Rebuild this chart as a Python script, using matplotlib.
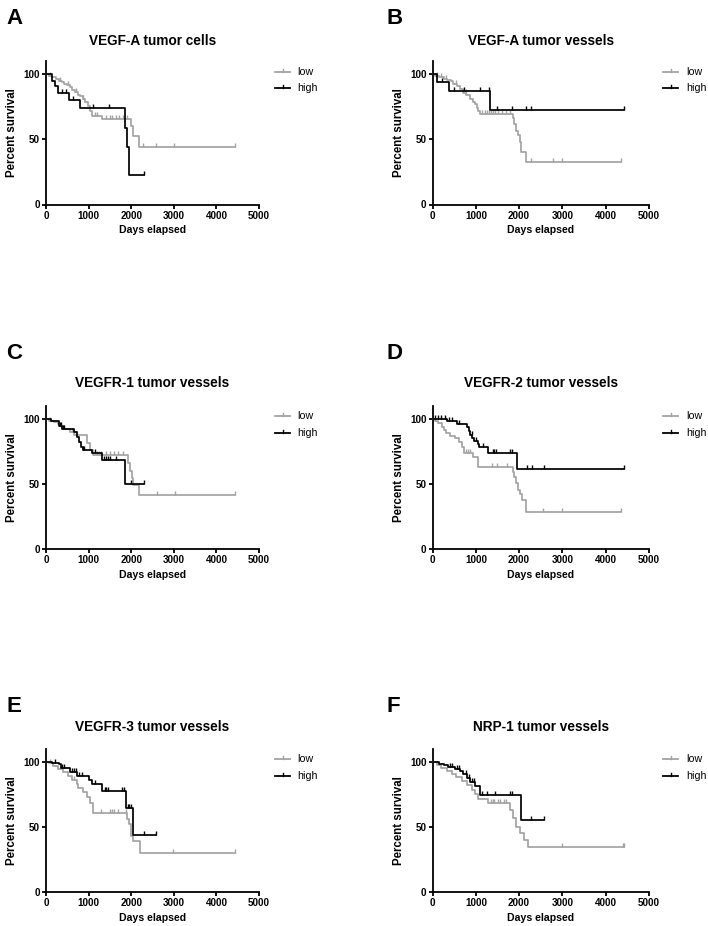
import numpy as np
import matplotlib
matplotlib.use('Agg')
import matplotlib.pyplot as plt
from matplotlib.lines import Line2D

plt.rcParams['font.family'] = ['Liberation Sans', 'DejaVu Sans']

# ---------------- data (days, percent survival) ----------------
titles = ["VEGF-A tumor cells", "VEGF-A tumor vessels", "VEGFR-1 tumor vessels",
          "VEGFR-2 tumor vessels", "VEGFR-3 tumor vessels", "NRP-1 tumor vessels"]
letters = ["A", "B", "C", "D", "E", "F"]
groups = ["low", "high"]
x_ticks = [0, 1000, 2000, 3000, 4000, 5000]
y_ticks = [0, 50, 100]

# Panel A
a_low_t = [60, 150, 230, 300, 370, 430, 500, 560, 620, 680, 740, 800, 860, 920, 980, 1040, 1090, 1320, 1990, 2050, 2180]
a_low_s = [98.8, 97.6, 96.4, 95.2, 94.0, 92.8, 91.6, 90.4, 88.0, 86.8, 84.4, 83.2, 80.8, 78.4, 75.8, 72.0, 68.2, 65.8, 60.0, 53.0, 44.4]
a_low_end = 4430
a_low_cens = [100, 340, 520, 700, 880, 1150, 1200, 1420, 1500, 1560, 1640, 1720, 1800, 1900, 2270, 2580, 3000, 4430]
a_high_t = [140, 200, 270, 540, 800, 1850, 1895, 1950]
a_high_s = [95, 91, 86, 80.5, 74.5, 58.5, 44.5, 22.3]
a_high_end = 2300
a_high_cens = [380, 460, 640, 1110, 1480, 2300]

# Panel B
b_low_t = [60, 150, 250, 330, 420, 480, 560, 640, 710, 780, 860, 930, 980, 1030, 1060, 1100, 1850, 1880, 1930, 1970, 2010, 2050, 2150]
b_low_s = [99, 98, 96.5, 95.5, 94.5, 92.5, 91, 89, 86, 84, 81, 79, 77, 74.5, 72, 69.5, 66.8, 61.7, 56.6, 53.3, 47.7, 40.6, 32.9]
b_low_end = 4360
b_low_cens = [100, 200, 300, 540, 760, 1150, 1200, 1250, 1300, 1350, 1400, 1450, 1500, 1600, 1700, 1780, 2270, 2790, 2990, 4360]
b_high_t = [110, 380, 1330]
b_high_s = [94, 87, 72.5]
b_high_end = 4430
b_high_cens = [210, 500, 725, 1100, 1300, 1480, 1830, 2150, 2270, 4430]

# Panel C
c_low_t = [60, 180, 280, 350, 420, 570, 650, 960, 1030, 1110, 1930, 1970, 2010, 2050, 2190]
c_low_s = [98.8, 97.5, 96, 94.5, 92.5, 90, 87.5, 81.3, 76.5, 72.0, 66, 60, 55, 49, 41.5]
c_low_end = 4430
c_low_cens = [100, 600, 700, 1200, 1250, 1300, 1400, 1500, 1600, 1700, 1800, 2600, 3020, 4430]
c_high_t = [125, 300, 380, 650, 720, 770, 830, 870, 1090, 1320, 1852]
c_high_s = [98.2, 95, 92.3, 89.7, 86, 82, 78.2, 76, 73.5, 68.2, 50]
c_high_end = 2297
c_high_cens = [330, 360, 400, 430, 880, 900, 1150, 1350, 1400, 1450, 1500, 1650, 2000, 2297]

# Panel D
d_low_t = [60, 130, 210, 260, 310, 400, 520, 600, 670, 725, 940, 1057, 1852, 1890, 1929, 1983, 2029, 2060, 2168]
d_low_s = [98.5, 96.7, 94.1, 91.5, 89, 87, 85.1, 82.6, 78.7, 73.6, 71, 63.3, 59.5, 55.6, 50.5, 45.4, 42.3, 37.7, 28.7]
d_low_end = 4360
d_low_cens = [780, 820, 860, 1366, 1481, 1713, 2560, 2990, 4360]
d_high_t = [330, 560, 790, 830, 870, 920, 960, 1040, 1080, 1290, 1944]
d_high_s = [98.5, 96.5, 93.5, 90.5, 88, 85.5, 83, 80.5, 78.7, 73.6, 61.8]
d_high_end = 4430
d_high_cens = [50, 120, 200, 280, 380, 450, 620, 900, 1000, 1170, 1390, 1420, 1470, 1800, 1840, 2176, 2290, 2577, 4430]

# Panel E
e_low_t = [60, 170, 290, 400, 520, 600, 730, 760, 860, 960, 1030, 1110, 1910, 1950, 2005, 2050, 2200]
e_low_s = [98.8, 97, 94.5, 92, 89, 86, 83, 79.5, 76.5, 73, 68, 60.8, 55.7, 51.9, 43, 39, 30]
e_low_end = 4430
e_low_cens = [100, 650, 1300, 1500, 1540, 1600, 1700, 1880, 2990, 4430]
e_high_t = [150, 305, 344, 563, 735, 1009, 1087, 1322, 1870, 2050]
e_high_s = [99, 98, 95.4, 92.1, 89, 85.9, 82.6, 77.5, 64.7, 43.6]
e_high_end = 2580
e_high_cens = [200, 380, 420, 620, 650, 700, 780, 840, 1150, 1380, 1420, 1460, 1780, 1820, 1920, 1960, 2000, 2300, 2580]

# Panel F
f_low_t = [100, 200, 320, 440, 550, 670, 790, 900, 980, 1060, 1290, 1800, 1860, 1930, 2020, 2120, 2200]
f_low_s = [97.5, 95, 92.5, 90.5, 88.5, 85.5, 82, 78.5, 75, 71, 68, 63, 57, 50, 45, 40, 34.6]
f_low_end = 4430
f_low_cens = [1350, 1400, 1420, 1500, 1550, 1650, 1700, 2990, 4400, 4430]
f_high_t = [150, 250, 360, 520, 630, 710, 790, 860, 980, 1095, 2040]
f_high_s = [98.5, 97.4, 96.2, 94.6, 92.8, 90.3, 87.7, 84.4, 81.3, 74.3, 55.5]
f_high_end = 2580
f_high_cens = [400, 450, 560, 620, 780, 830, 900, 950, 1150, 1250, 1450, 1780, 1830, 2270, 2580]

panels = [
    (a_low_t, a_low_s, a_low_end, a_low_cens, a_high_t, a_high_s, a_high_end, a_high_cens),
    (b_low_t, b_low_s, b_low_end, b_low_cens, b_high_t, b_high_s, b_high_end, b_high_cens),
    (c_low_t, c_low_s, c_low_end, c_low_cens, c_high_t, c_high_s, c_high_end, c_high_cens),
    (d_low_t, d_low_s, d_low_end, d_low_cens, d_high_t, d_high_s, d_high_end, d_high_cens),
    (e_low_t, e_low_s, e_low_end, e_low_cens, e_high_t, e_high_s, e_high_end, e_high_cens),
    (f_low_t, f_low_s, f_low_end, f_low_cens, f_high_t, f_high_s, f_high_end, f_high_cens),
]

# ---------------- layout ----------------
W, H = 708, 926
fig = plt.figure(figsize=(W / 100, H / 100), dpi=100)
fig.patch.set_facecolor('white')

GRAY = '#a3a3a3'
BLACK = '#000000'

col_x = [(46, 259), (432.7, 648.7)]
row_y = [(61.3, 204.5), (406, 549), (748.7, 891.7)]
title_y = [41, 383, 727]
letter_y = [18, 353, 707]
letter_x = [6, 387]
ylabel_x = [12, 399]
legend_line_x = [(275, 290), (663, 678)]
legend_text_x = [297, 686.7]


def fx(px):
    return px / W


def fy(py):
    return 1 - py / H


def km(ax, t, s, end, cens, color):
    t = np.asarray(t, float)
    s = np.asarray(s, float)
    tt = np.r_[0, t, end]
    ss = np.r_[100, s, s[-1]]
    ax.step(tt, ss, where='post', color=color, lw=1.25, clip_on=False, zorder=3)
    idx = np.searchsorted(t, np.asarray(cens, float), side='right')
    cs = np.r_[100, s][idx]
    ax.plot(cens, cs, ls='none', marker=2, ms=3.2, mew=1.0, color=color,
            clip_on=False, zorder=3)


for i, (title, letter, data) in enumerate(zip(titles, letters, panels)):
    r, c = divmod(i, 2)
    x0, x1 = col_x[c]
    yt, yb = row_y[r]
    ax = fig.add_axes([fx(x0), fy(yb), (x1 - x0) / W, (yb - yt) / H])
    lt, ls_, le, lc, ht, hs, he, hc = data
    km(ax, lt, ls_, le, lc, GRAY)
    km(ax, ht, hs, he, hc, BLACK)
    ax.set_xlim(0, 5000)
    ax.set_ylim(0, 110)
    ax.set_xticks(x_ticks)
    ax.set_yticks(y_ticks)
    ax.set_xticklabels([str(v) for v in x_ticks], fontsize=7.1, fontweight='bold')
    ax.set_yticklabels([str(v) for v in y_ticks], fontsize=7.1, fontweight='bold')
    for sp in ['top', 'right']:
        ax.spines[sp].set_visible(False)
    for sp in ['left', 'bottom']:
        ax.spines[sp].set_linewidth(1.3)
    ax.tick_params(direction='out', length=3, width=1.3, pad=1.5)
    ax.set_facecolor('none')

    cx = (x0 + x1) / 2
    fig.text(fx(cx), fy(title_y[r]), title, ha='center', va='center',
             fontsize=9.8, fontweight='bold')
    fig.text(fx(cx), fy(yb + 26), "Days elapsed", ha='center', va='center',
             fontsize=7.6, fontweight='bold')
    fig.text(fx(ylabel_x[c]), fy((yt + yb) / 2), "Percent survival", ha='center',
             va='center', rotation=90, fontsize=8.3, fontweight='bold')
    fig.text(fx(letter_x[c]), fy(letter_y[r]), letter, ha='left', va='center',
             fontsize=16, fontweight='bold')

    # legend
    y100 = yb - (yb - yt) * 100 / 110
    for g, col, dy in zip(groups, [GRAY, BLACK], [-2.6, 14]):
        ly = y100 + dy
        lx0, lx1 = legend_line_x[c]
        fig.add_artist(Line2D([fx(lx0), fx(lx1)], [fy(ly), fy(ly)],
                              transform=fig.transFigure, color=col, lw=1.3))
        fig.add_artist(Line2D([fx((lx0 + lx1) / 2)] * 2, [fy(ly - 3), fy(ly)],
                              transform=fig.transFigure, color=col, lw=1.0))
        fig.text(fx(legend_text_x[c]), fy(ly), g, ha='left', va='center',
                 fontsize=7.7)

fig.savefig('out.png', dpi=100, facecolor='white')
